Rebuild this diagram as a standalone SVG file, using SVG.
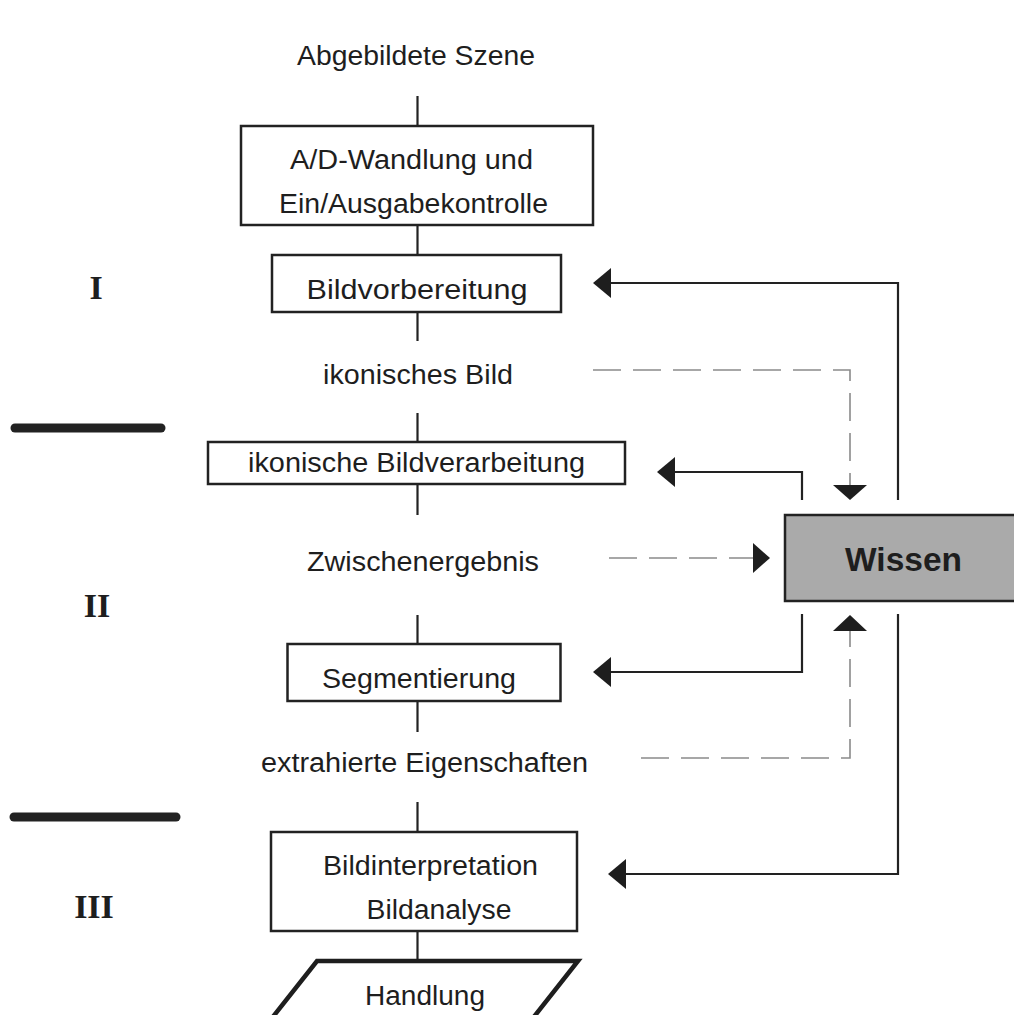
<svg xmlns="http://www.w3.org/2000/svg" width="1014" height="1015" viewBox="0 0 1014 1015">
<defs>
<style>
.box{fill:#fff;stroke:#222;stroke-width:2.5}
.t{font-family:"Liberation Sans",Arial,sans-serif;font-size:27px;fill:#1e1e1e;text-anchor:middle}
.w{font-family:"Liberation Sans",Arial,sans-serif;font-size:33px;font-weight:bold;fill:#1e1e1e;text-anchor:middle}
.r{font-family:"Liberation Serif","Times New Roman",serif;font-size:34px;font-weight:bold;fill:#1e1e1e;text-anchor:middle}
.ln{fill:none;stroke:#222;stroke-width:2.2}
.ds{fill:none;stroke:#8a8a8a;stroke-width:1.6;stroke-dasharray:28 12}
.ah{fill:#1e1e1e}
.bar{stroke:#222;stroke-width:9;stroke-linecap:round}
</style>
</defs>
<rect width="1014" height="1015" fill="#fff"/>

<g id="levels">
<text class="r" x="96" y="299">I</text>
<text class="r" x="97" y="617">II</text>
<text class="r" x="94" y="918">III</text>
<line class="bar" x1="15" y1="428" x2="161" y2="428"/>
<line class="bar" x1="14" y1="817" x2="176" y2="817"/>
</g>

<g id="connectors">
<line class="ln" x1="417.5" y1="96" x2="417.5" y2="126"/>
<line class="ln" x1="417.5" y1="225" x2="417.5" y2="255"/>
<line class="ln" x1="417.5" y1="312" x2="417.5" y2="341"/>
<line class="ln" x1="417.5" y1="413" x2="417.5" y2="442"/>
<line class="ln" x1="417.5" y1="484" x2="417.5" y2="515"/>
<line class="ln" x1="417.5" y1="615" x2="417.5" y2="644"/>
<line class="ln" x1="417.5" y1="701" x2="417.5" y2="732"/>
<line class="ln" x1="417.5" y1="802" x2="417.5" y2="832"/>
<line class="ln" x1="417.5" y1="931" x2="417.5" y2="961"/>

<polyline class="ln" points="898,500 898,283 610,283"/>
<polygon class="ah" points="593,283 611,268 611,298"/>

<polyline class="ln" points="802,500 802,472 674,472"/>
<polygon class="ah" points="657,472 675,457 675,487"/>

<polyline class="ds" points="593,370 850,370 850,486"/>
<polygon class="ah" points="833,485 867,485 850,500"/>

<line class="ds" x1="609" y1="558" x2="754" y2="558"/>
<polygon class="ah" points="770,558 753,543 753,573"/>

<polyline class="ln" points="802,614 802,672 609,672"/>
<polygon class="ah" points="593,672 611,657 611,687"/>

<polyline class="ds" points="641,758 850,758 850,630"/>
<polygon class="ah" points="833,631 867,631 850,615"/>

<polyline class="ln" points="898,614 898,874 624,874"/>
<polygon class="ah" points="608,874 626,859 626,889"/>
</g>

<g id="n-szene">
<text class="t" x="416" y="65" textLength="238" lengthAdjust="spacingAndGlyphs">Abgebildete Szene</text>
</g>

<g id="n-ad">
<rect class="box" x="241" y="126" width="352" height="99"/>
<text class="t" x="411.5" y="168.5" textLength="243" lengthAdjust="spacingAndGlyphs">A/D-Wandlung und</text>
<text class="t" x="413.5" y="213" textLength="269" lengthAdjust="spacingAndGlyphs">Ein/Ausgabekontrolle</text>
</g>

<g id="n-bildvorbereitung">
<rect class="box" x="272" y="255" width="289" height="57"/>
<text class="t" x="417" y="298.5" textLength="221" lengthAdjust="spacingAndGlyphs">Bildvorbereitung</text>
</g>

<g id="n-ikonisches-bild">
<text class="t" x="418" y="384" textLength="190" lengthAdjust="spacingAndGlyphs">ikonisches Bild</text>
</g>

<g id="n-ikonische-bv">
<rect class="box" x="208" y="442" width="417" height="42"/>
<text class="t" x="416.5" y="472" textLength="337" lengthAdjust="spacingAndGlyphs">ikonische Bildverarbeitung</text>
</g>

<g id="n-zwischen">
<text class="t" x="423" y="571" textLength="232" lengthAdjust="spacingAndGlyphs">Zwischenergebnis</text>
</g>

<g id="n-wissen">
<rect x="785" y="515" width="235" height="86" fill="#aaaaaa" stroke="#222" stroke-width="2.5"/>
<text class="w" x="903.5" y="570.5" textLength="117" lengthAdjust="spacingAndGlyphs">Wissen</text>
</g>

<g id="n-segmentierung">
<rect class="box" x="287.5" y="644" width="273" height="57"/>
<text class="t" x="419" y="687.5" textLength="194" lengthAdjust="spacingAndGlyphs">Segmentierung</text>
</g>

<g id="n-eigenschaften">
<text class="t" x="424.5" y="772" textLength="327" lengthAdjust="spacingAndGlyphs">extrahierte Eigenschaften</text>
</g>

<g id="n-interpretation">
<rect class="box" x="271" y="832" width="306" height="99"/>
<text class="t" x="430.5" y="874.5" textLength="215" lengthAdjust="spacingAndGlyphs">Bildinterpretation</text>
<text class="t" x="439" y="918.5" textLength="145" lengthAdjust="spacingAndGlyphs">Bildanalyse</text>
</g>

<g id="n-handlung">
<polygon points="317,961 578,961 533,1018 272,1018" fill="#fff" stroke="#1e1e1e" stroke-width="4.5"/>
<text class="t" x="425" y="1004.5" textLength="120" lengthAdjust="spacingAndGlyphs">Handlung</text>
</g>
</svg>
